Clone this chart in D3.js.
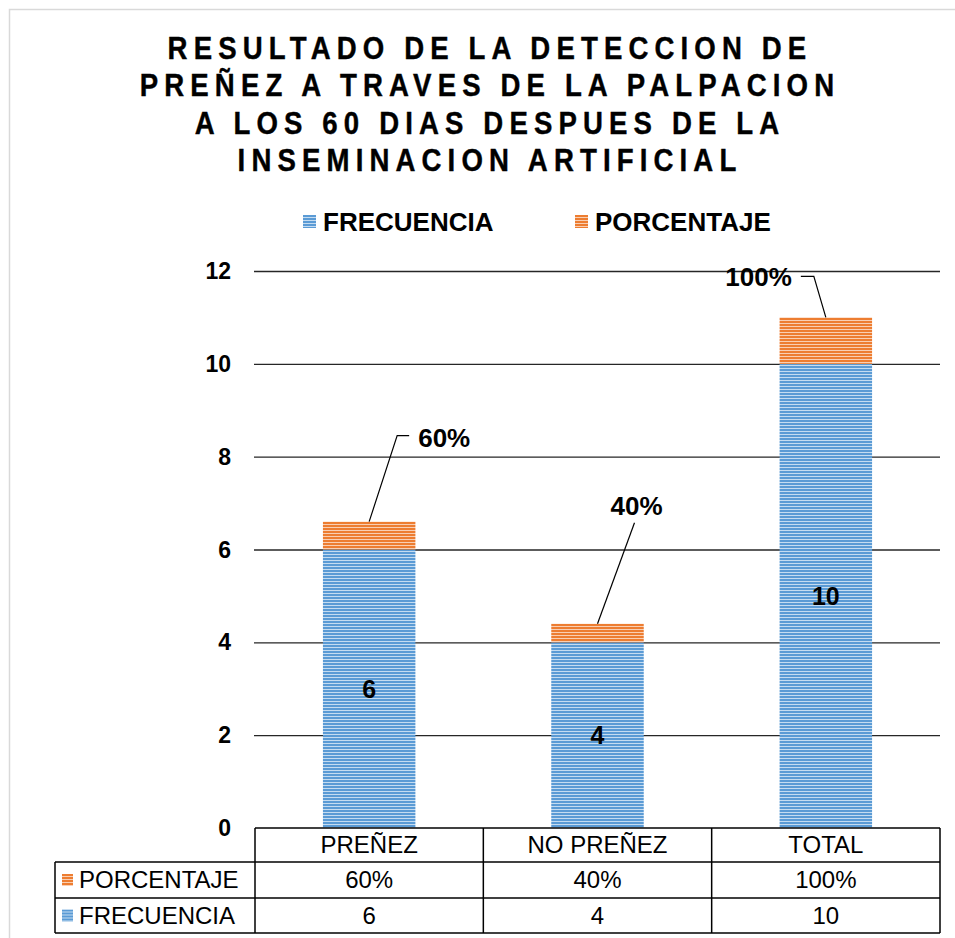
<!DOCTYPE html>
<html>
<head>
<meta charset="utf-8">
<script src="https://cdn.jsdelivr.net/npm/d3@7"></script>
<style>
  html, body { margin: 0; padding: 0; background: #fff; }
  svg { display: block; font-family: "Liberation Sans", Arial, sans-serif; }
</style>
</head>
<body>
<div id="chart"></div>
<script>
// datos del grafico
const titleLines = [
  "RESULTADO DE LA DETECCION DE",
  "PREÑEZ A TRAVES DE LA PALPACION",
  "A LOS 60 DIAS DESPUES DE LA",
  "INSEMINACION ARTIFICIAL"
];
const categories = ["PREÑEZ", "NO PREÑEZ", "TOTAL"];
const frecuencia = [6, 4, 10];
const porcentaje = [0.6, 0.4, 1.0];
const porcentajeLabels = ["60%", "40%", "100%"];
const yTicks = [0, 2, 4, 6, 8, 10, 12];
const seriesNames = ["FRECUENCIA", "PORCENTAJE"];

const W = 955, H = 938;
const margin = { top: 271, right: 15, bottom: 110, left: 255 };

const svg = d3.select("#chart").append("svg")
  .attr("width", W).attr("height", H);

// patrones rayados (estilo Excel)
const defs = svg.append("defs");
function stripes(id, dark, light) {
  const p = defs.append("pattern")
    .attr("id", id).attr("patternUnits", "userSpaceOnUse")
    .attr("width", 6).attr("height", 3);
  p.append("rect").attr("width", 6).attr("height", 3).attr("fill", light);
  p.append("rect").attr("width", 6).attr("height", 2).attr("fill", dark);
}
stripes("pBlue", "#5B9BD5", "#C5DCF1");
stripes("pOrange", "#ED7D31", "#F9CFB3");
const fills = { FRECUENCIA: "url(#pBlue)", PORCENTAJE: "url(#pOrange)" };

// marco del grafico
svg.append("rect")
  .attr("x", 9.5).attr("y", 9.5).attr("width", 980).attr("height", 960)
  .attr("fill", "none").attr("stroke", "#d9d9d9").attr("stroke-width", 1.5);

// titulo (letras algo estrechas, con espaciado amplio)
svg.append("g").selectAll("text")
  .data(titleLines).join("text")
  .attr("transform", (d, i) => `translate(490,${59 + i * 37.3}) scale(0.89,1)`)
  .attr("text-anchor", "middle")
  .attr("font-size", 31).attr("font-weight", "bold")
  .attr("letter-spacing", 6.9)
  .attr("fill", "#000").attr("stroke", "#000").attr("stroke-width", 0.4)
  .text(d => d);

// leyenda
const legendX = [303, 575];
const lg = svg.append("g").selectAll("g")
  .data(seriesNames).join("g")
  .attr("transform", (d, i) => `translate(${legendX[i]},215)`);
lg.append("rect").attr("width", 13).attr("height", 13).attr("fill", d => fills[d]);
lg.append("text")
  .attr("x", 20).attr("y", 16)
  .attr("font-size", 26).attr("font-weight", "bold")
  .text(d => d);

// escalas
const x = d3.scaleBand()
  .domain(categories)
  .range([margin.left, W - margin.right])
  .padding(0);

const y = d3.scaleLinear()
  .domain([0, 12])
  .range([H - margin.bottom, margin.top]);

// grid horizontal
svg.append("g")
  .attr("transform", `translate(${margin.left - 1},0)`)
  .call(d3.axisLeft(y).tickValues(yTicks.filter(v => v > 0))
    .tickSize(-(W - margin.right - margin.left + 1)).tickFormat(""))
  .call(g => g.select(".domain").remove())
  .selectAll("line").attr("stroke", "#262626").attr("stroke-width", 1.3);

// etiquetas eje Y
svg.append("g").selectAll("text")
  .data(yTicks).join("text")
  .attr("x", 231).attr("y", d => y(d) + 8)
  .attr("text-anchor", "end")
  .attr("font-size", 23).attr("font-weight", "bold")
  .text(d => d);

// barras apiladas
const barW = x.bandwidth() * 0.405;
const bx = c => x(c) + (x.bandwidth() - barW) / 2;
const rows = categories.map((c, i) => ({
  c, f: frecuencia[i], p: porcentaje[i], lab: porcentajeLabels[i]
}));

const bars = svg.append("g");
bars.selectAll("rect.f").data(rows).join("rect")
  .attr("x", d => bx(d.c)).attr("width", barW)
  .attr("y", d => y(d.f)).attr("height", d => y(0) - y(d.f))
  .attr("fill", fills.FRECUENCIA);
bars.selectAll("rect.p").data(rows).join("rect")
  .attr("x", d => bx(d.c)).attr("width", barW)
  .attr("y", d => y(d.f + d.p)).attr("height", d => y(d.f) - y(d.f + d.p))
  .attr("fill", fills.PORCENTAJE);

// etiquetas de frecuencia
svg.append("g").selectAll("text").data(rows).join("text")
  .attr("x", d => x(d.c) + x.bandwidth() / 2)
  .attr("y", d => y(d.f / 2) + 9)
  .attr("text-anchor", "middle")
  .attr("font-size", 25).attr("font-weight", "bold")
  .text(d => d.f);

// etiquetas de porcentaje con lineas guia (desplazamientos desde la cima de la barra)
const leader = [
  { pts: [[0, 0], [28, -86], [40, -86]], tx: 49, ty: -75, anchor: "start" },
  { pts: [[0, 0], [37, -101]], tx: 39, ty: -109, anchor: "middle" },
  { pts: [[0, 0], [-12, -41], [-25, -41]], tx: -34, ty: -31, anchor: "end" }
];
const lab = svg.append("g").selectAll("g").data(rows).join("g")
  .attr("transform", d => `translate(${x(d.c) + x.bandwidth() / 2},${y(d.f + d.p)})`);
lab.append("path")
  .attr("d", (d, i) => d3.line()(leader[i].pts))
  .attr("fill", "none").attr("stroke", "#000").attr("stroke-width", 1.2);
lab.append("text")
  .attr("x", (d, i) => leader[i].tx).attr("y", (d, i) => leader[i].ty)
  .attr("text-anchor", (d, i) => leader[i].anchor)
  .attr("font-size", 26).attr("font-weight", "bold")
  .text(d => d.lab);

// tabla de datos
const rowH = [34, 36, 35];
const rowY = [y(0), y(0) + rowH[0], y(0) + rowH[0] + rowH[1]];
const tableBottom = rowY[2] + rowH[2];
const tableLeft = 55;
const t = svg.append("g").attr("stroke", "#000").attr("stroke-width", 1.5).attr("fill", "none");
// lineas horizontales
t.append("line").attr("x1", margin.left).attr("x2", W - margin.right).attr("y1", rowY[0]).attr("y2", rowY[0]);
[rowY[1], rowY[2], tableBottom].forEach(yy =>
  t.append("line").attr("x1", tableLeft).attr("x2", W - margin.right).attr("y1", yy).attr("y2", yy));
// lineas verticales
t.append("line").attr("x1", tableLeft).attr("x2", tableLeft).attr("y1", rowY[1]).attr("y2", tableBottom);
categories.forEach(c =>
  t.append("line").attr("x1", x(c)).attr("x2", x(c)).attr("y1", rowY[0]).attr("y2", tableBottom));
t.append("line").attr("x1", W - margin.right).attr("x2", W - margin.right).attr("y1", rowY[0]).attr("y2", tableBottom);

const tt = svg.append("g").attr("font-size", 24).attr("fill", "#000");
tt.selectAll("text.h").data(categories).join("text")
  .attr("x", c => x(c) + x.bandwidth() / 2).attr("y", rowY[0] + rowH[0] / 2 + 8)
  .attr("text-anchor", "middle").text(c => c);
tt.selectAll("text.p").data(rows).join("text")
  .attr("x", d => x(d.c) + x.bandwidth() / 2).attr("y", rowY[1] + rowH[1] / 2 + 8)
  .attr("text-anchor", "middle").text(d => d.lab);
tt.selectAll("text.fr").data(rows).join("text")
  .attr("x", d => x(d.c) + x.bandwidth() / 2).attr("y", rowY[2] + rowH[2] / 2 + 8)
  .attr("text-anchor", "middle").text(d => d.f);

// claves de la tabla
const keyRows = [
  { name: "PORCENTAJE", y: rowY[1] + rowH[1] / 2 },
  { name: "FRECUENCIA", y: rowY[2] + rowH[2] / 2 }
];
const kg = svg.append("g").selectAll("g").data(keyRows).join("g")
  .attr("transform", d => `translate(62,${d.y})`);
kg.append("rect").attr("x", 0).attr("y", -6).attr("width", 11).attr("height", 12)
  .attr("fill", d => fills[d.name]);
kg.append("text").attr("x", 17).attr("y", 8).attr("font-size", 24).text(d => d.name);
</script>
</body>
</html>
